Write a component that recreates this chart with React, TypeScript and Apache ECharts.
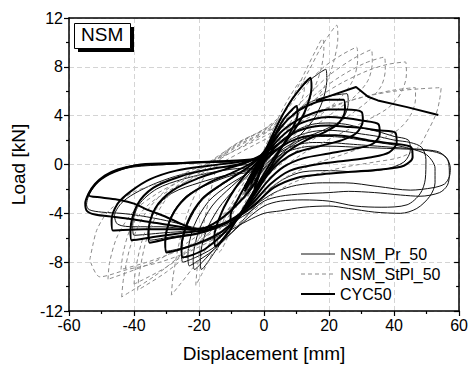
import React, { useEffect, useRef } from "react";
import * as echarts from "echarts";

const FONT = '"Liberation Sans", Arial, Helvetica, sans-serif';

const xRange = [-60, 60];
const xStep = 20;
const yRange = [-12, 12];
const yStep = 4;
const seriesNames = ["NSM_Pr_50", "NSM_StPl_50", "CYC50"];
const panelTitle = "NSM";
const xTitle = "Displacement [mm]";
const yTitle = "Load [kN]";

// CYC50 (thick) loops
const cyc1 = [[-3,-2.0],[0,0.2],[3,2.2],[6,3.7],[9,4.6],[10,4.8],[10.3,4.1],[8,2.6],[5,1.2],[2,-0.2],[-1,-1.4],[-4,-2.9],[-7,-4.1],[-10,-4.9],[-10.3,-4.2],[-8,-2.8],[-5,-1.4],[-2,-0.1],[0,0.9],[3,2.2]];
const cyc2 = [[-4,-1.6],[0,0.9],[4,3.2],[8,5.1],[12,6.5],[14.3,7.1],[14.6,6.3],[12.5,4.3],[9,2.7],[5,1.3],[1,-0.3],[-3,-2.1],[-7,-3.9],[-11,-5.6],[-15,-6.7],[-15.3,-5.9],[-13,-3.9],[-9,-2],[-5,-0.6],[-1,0.5],[3,2.5]];
const cyc3 = [[-5,-1.3],[0,1.0],[5,3.0],[10,4.3],[15,5.0],[20,5.3],[24.5,5.3],[24.9,4.5],[23,3.4],[19,2.7],[13,2.0],[7,1.0],[2,-0.4],[-3,-2.3],[-8,-4.3],[-13,-5.8],[-18,-6.9],[-22,-7.4],[-25,-7.6],[-25.4,-6.8],[-23.5,-4.7],[-19,-2.8],[-13,-1.6],[-7,-0.6],[-2,0.4],[3,2.2]];
const cyc4 = [[-5,-1.5],[0,0.8],[5,2.6],[10,3.6],[15,4.2],[20,4.5],[25,4.5],[30,4.3],[30.4,3.6],[28.5,2.6],[24,2.0],[17,1.5],[10,1.0],[5,0.2],[1,-0.9],[-3,-2.5],[-8,-4.3],[-13,-5.5],[-18,-6.2],[-24,-6.8],[-30,-7.2],[-30.4,-6.4],[-28.5,-4.3],[-24,-2.7],[-17,-1.5],[-10,-0.7],[-4,0.1],[1,1.2],[5,2.6]];
const cyc5 = [[-6,-1.8],[0,0.6],[5,2.2],[10,3.2],[15,3.7],[20,3.9],[25,3.8],[30,3.6],[35.2,3.3],[35.6,2.5],[33.5,1.7],[28,1.3],[20,0.9],[12,0.5],[6,-0.2],[1,-1.4],[-4,-3.1],[-9,-4.4],[-15,-5.2],[-21,-5.7],[-28,-6.0],[-35.2,-6.4],[-35.6,-5.6],[-33.5,-3.6],[-28,-2.1],[-20,-1.1],[-12,-0.4],[-5,0.2],[0,0.9],[5,2.2]];
const cyc6 = [[-6,-2],[0,0.4],[5,1.8],[10,2.7],[15,3.1],[20,3.2],[25,3.1],[30,3.0],[35,2.8],[40.4,2.6],[40.8,1.8],[38.5,1.0],[33,0.6],[25,0.3],[16,0.0],[8,-0.5],[2,-1.6],[-4,-3.3],[-10,-4.5],[-17,-5.3],[-25,-5.6],[-33,-5.9],[-40.7,-6.2],[-41.1,-5.4],[-39,-3.3],[-34,-1.9],[-26,-1.0],[-17,-0.4],[-8,0.0],[-2,0.6],[5,1.8]];
const cyc7 = [[-6,-2.2],[0,0.2],[5,1.4],[10,2.1],[16,2.4],[22,2.4],[28,2.2],[34,1.9],[40,1.7],[45.3,1.4],[45.7,0.6],[43,-0.1],[36,-0.4],[27,-0.6],[18,-0.8],[10,-1.1],[3,-1.9],[-3,-3.3],[-10,-4.6],[-18,-5.2],[-27,-5.3],[-37,-5.3],[-46.5,-5.4],[-46.9,-4.6],[-45,-3.2],[-41,-2.2],[-35,-1.2],[-27,-0.5],[-17,-0.1],[-8,0.2],[-2,0.5],[5,1.4]];
const cyc8 = [[0,0.5],[-10,0.3],[-20,0.2],[-30,0.05],[-40,-0.1],[-45,-0.4],[-49,-0.9],[-52,-1.6],[-54,-2.4],[-55,-3.2],[-54.5,-3.8],[-52,-4.1],[-46,-4.3],[-40,-4.5],[-33,-4.8],[-26,-5.1],[-20,-5.3],[-14,-4.6],[-8,-3.2],[-3,-1.6],[0,0.5]];
const cyc9 = [[-10,0.25],[-25,0.12],[-38,0],[-46,-0.6],[-51,-1.4],[-54,-2.5],[-50,-2.7],[-44.4,-2.9],[-40,-3.2],[-36,-3.7],[-31,-4.2],[-26,-4.8],[-21,-5.4]];
const cycEnvelope = [[16,5.2],[19,5.5],[28.3,6.35],[32,5.55],[35,5.25],[44,4.7],[53.6,4.05]];
const cycLoops = [cyc1, cyc2, cyc3, cyc4, cyc5, cyc6, cyc7, cyc8, cyc9];

// NSM_Pr_50 (thin) loops
const pr1 = [[-3,-1.8],[1,1.2],[6,4.2],[11,6.2],[16,7.3],[19,7.8],[19.3,6.9],[18,5.2],[15,3.6],[10,2.1],[5,0.7],[0,-1],[-5,-3.1],[-10,-5.1],[-15,-7.1],[-19.3,-8.6],[-19.6,-7.7],[-18,-5.6],[-14,-3.6],[-9,-2.0],[-4,-0.6],[1,1.2]];
const pr2 = [[-4,-2],[0,0.5],[5,2.9],[10,4.4],[15,5.2],[20,5.6],[25.5,5.8],[25.9,5.0],[24,3.7],[19,2.9],[12,2.1],[5,0.8],[0,-0.9],[-5,-3.1],[-10,-5.1],[-15,-6.8],[-19,-8],[-21.4,-8.6],[-21.8,-7.7],[-20,-5.4],[-16,-3.4],[-10,-1.8],[-4,-0.4],[1,1.0]];
const pr3 = [[-5,-2.2],[0,0.3],[5,1.9],[10,2.8],[15,3.3],[20,3.4],[25,3.3],[30,3.0],[35,2.7],[40,2.3],[44.4,2.0],[45,1.2],[43,0.2],[37,-0.4],[28,-0.6],[20,-0.5],[12,-0.6],[6,-1.2],[1,-2.2],[-4,-3.8],[-10,-5.6],[-16,-7.1],[-21,-8],[-23,-8.3],[-23.4,-7.4],[-21.5,-5],[-17,-3],[-11,-1.7],[-5,-0.7],[0,0.3]];
const pr4 = [[-5,-2.4],[0,0.0],[5,1.5],[10,2.3],[15,2.7],[20,2.8],[25,2.7],[30,2.5],[35,2.3],[40,2.0],[45,1.8],[48.5,1.4],[49.8,0.4],[49.6,-1.2],[48,-2.4],[44,-3.3],[36,-3.5],[28,-3.4],[20,-3.0],[12,-2.9],[5,-3.0],[0,-3.4],[-5,-4.4],[-10,-5.6],[-16,-6.9],[-21,-7.6],[-25,-8.0],[-25.4,-7.1],[-23.5,-4.9],[-19,-2.9],[-12,-1.5],[-6,-0.5],[0,0.0]];
const pr5 = [[-6,-2.6],[0,-0.3],[5,1.1],[10,1.9],[15,2.25],[20,2.3],[25,2.2],[30,2.0],[35,1.8],[40,1.6],[45,1.3],[50,0.8],[52.6,-0.3],[52.6,-1.5],[51,-2.6],[47,-3.6],[42,-4.0],[34,-3.9],[26,-3.6],[20,-3.4],[12,-3.5],[5,-3.8],[0,-4.0],[-5,-4.6],[-12,-5.6],[-20,-6.5],[-26,-6.9],[-30,-7.1],[-30.4,-6.3],[-28.5,-4.2],[-24,-2.6],[-17,-1.6],[-10,-0.9],[-4,-0.6],[0,-0.3]];
const pr6 = [[-6,-2.4],[0,-0.1],[5,1.0],[10,1.6],[15,1.8],[20,1.8],[25,1.7],[30,1.6],[35,1.5],[40,1.4],[45,1.3],[50,1.2],[54,1.0],[56.6,0.3],[57,-0.8],[56.4,-1.7],[54,-2.3],[48,-2.6],[42,-2.5],[34,-2.3],[26,-2.2],[20,-2.3],[12,-2.4],[5,-2.6],[0,-3.0],[-5,-4.0],[-12,-5.0],[-20,-5.6],[-28,-5.9],[-35,-6.2],[-35.4,-5.4],[-33.5,-3.6],[-28,-2.3],[-20,-1.5],[-12,-0.9],[-5,-0.5],[0,-0.1]];
const pr7 = [[-6,-2.5],[0,-0.4],[5,0.8],[10,1.3],[15,1.5],[20,1.5],[30,1.4],[40,1.3],[48,1.2],[53,1.0],[56,0.6],[57.3,-0.3],[57,-1.0],[55.5,-1.6],[52,-1.9],[45,-2.1],[35,-1.8],[25,-1.5],[18,-1.5],[10,-1.7],[4,-2.2],[-1,-3.0],[-6,-4.0],[-13,-4.9],[-22,-5.4],[-31,-5.6],[-40,-5.8],[-40.4,-5.0],[-38.5,-3.3],[-33,-2.0],[-25,-1.2],[-15,-0.6],[-6,-0.3],[0,-0.4]];
const pr8 = [[0,0.4],[-10,0.25],[-20,0.15],[-30,0],[-40,-0.2],[-45,-0.5],[-49,-1.0],[-52,-1.7],[-54,-2.6],[-54.6,-3.3],[-53.8,-3.7],[-50,-3.9],[-44,-4.0],[-38,-4.2],[-30,-4.6],[-24,-5.0],[-18,-5.4]];
const pr9 = [[-5,0],[-15,-0.3],[-25,-0.8],[-33,-1.5],[-40,-2.4],[-44,-3.2],[-46,-4.2],[-45,-4.9],[-40,-5.1],[-32,-5.1],[-24,-5.3],[-18,-5.6]];
const prLoops = [pr1, pr2, pr3, pr4, pr5, pr6, pr7, pr8, pr9];

// NSM_StPl_50 (dashed grey) loops
const st1 = [[-4,-1.5],[0,1.2],[4,3.6],[8,5.6],[12,7.0],[12.4,6.2],[10,4.4],[6,2.5],[2,0.8],[-2,-1.0],[-6,-3.2],[-10,-5.3],[-14,-7.2],[-14.4,-6.4],[-12,-4.3],[-8,-2.3],[-4,-0.5],[0,1.2]];
const st2 = [[-21,-9.9],[-20.6,-8.6],[-19,-5.5],[-16.5,-2.3],[-14,0.2],[-10,1.4],[-5,2.2],[0,2.8],[5,3.8],[9,5.6],[13,7.8],[16,9.4],[18,10.3],[18.4,9.5],[17.5,7.8],[15,6.0],[10,3.9],[5,2.0],[0,0.2],[-5,-1.8],[-10,-4.2],[-15,-6.8],[-19,-8.9],[-21,-9.9]];
const st3 = [[-28.5,-10.7],[-28,-9.2],[-26,-6.3],[-23,-3.6],[-19,-1.3],[-14,0.6],[-8,1.8],[-2,2.6],[4,3.6],[9,5.4],[14,7.8],[18,9.8],[22.4,11.4],[22.7,10.4],[21.5,8.5],[19,6.6],[14,4.6],[8,2.6],[2,0.6],[-4,-1.6],[-10,-3.9],[-16,-6.2],[-22,-8.5],[-28.5,-10.7]];
const st4 = [[-38.9,-10.3],[-38.3,-8.8],[-36,-6.0],[-32,-3.6],[-27,-1.8],[-20,-0.4],[-13,0.9],[-6,2.0],[0,2.9],[6,4.2],[12,6.2],[18,7.9],[24,9.0],[28.5,9.6],[28.8,8.6],[27.5,7.0],[24,5.6],[18,4.2],[11,2.8],[4,1.0],[-2,-0.9],[-8,-2.9],[-15,-5.0],[-22,-7.0],[-30,-8.8],[-38.9,-10.3]];
const st5 = [[-43.8,-10.85],[-43.2,-9.3],[-41,-6.6],[-37,-4.2],[-31,-2.3],[-24,-1.0],[-16,0.3],[-8,1.6],[0,2.7],[7,4.0],[14,5.8],[20,7.3],[27,8.6],[33,9.4],[33.3,8.4],[32,6.9],[28,5.6],[21,4.2],[13,2.6],[5,0.7],[-2,-1.1],[-9,-3.1],[-17,-5.3],[-25,-7.3],[-34,-9.2],[-43.8,-10.85]];
const st6 = [[-40,-9.8],[-39.4,-8.4],[-37,-5.8],[-33,-3.6],[-27,-2.0],[-20,-0.7],[-12,0.7],[-4,1.9],[3,3.0],[10,4.4],[17,6.0],[24,7.3],[31,8.3],[37,8.8],[37.3,7.8],[36,6.4],[32,5.2],[25,3.8],[17,2.4],[9,0.9],[2,-0.7],[-5,-2.5],[-13,-4.6],[-21,-6.6],[-30,-8.4],[-40,-9.8]];
const st7 = [[-48,-9.4],[-47.5,-8],[-45,-5.8],[-40,-3.8],[-33,-2.4],[-25,-1.2],[-16,0.2],[-8,1.5],[0,2.6],[8,3.9],[16,5.4],[24,6.7],[32,7.7],[38,8.2],[43.5,8.4],[43.8,7.4],[42,5.8],[38,4.6],[30,3.4],[21,2.2],[12,0.9],[4,-0.6],[-4,-2.3],[-13,-4.3],[-23,-6.3],[-34,-8],[-48,-9.4]];
const st8 = [[-53.6,-7.8],[-52.5,-6.4],[-51.5,-5.4],[-49.5,-4.4],[-47.4,-3.7],[-40.4,-2.3],[-30,-1.3],[-20,-0.2],[-10,1.0],[0,2.3],[10,3.6],[20,4.7],[30,5.5],[40,6.0],[48,6.2],[54.5,6.3],[54,5.3],[53,4.2],[50.5,2.8],[47.4,1.4],[42,0.6],[34,0.2],[25,-0.2],[16,-0.8],[8,-1.6],[2,-2.6],[-4,-4.0],[-12,-5.6],[-22,-7.0],[-32,-8.0],[-42,-8.6],[-50.5,-9.2],[-53.6,-7.8]];
const st9 = [[-44,-8.6],[-43.3,-7.2],[-41,-5.2],[-36,-3.4],[-29,-2.1],[-21,-1.0],[-12,0.3],[-3,1.6],[6,2.8],[15,4.0],[24,5.0],[33,5.7],[40,6.1],[46.5,6.3],[46.6,5.4],[45,4.0],[41,2.8],[33,1.7],[24,0.8],[15,0.0],[7,-1.0],[0,-2.3],[-7,-3.9],[-16,-5.6],[-26,-7.0],[-36,-8.0],[-44,-8.6]];
const stLoops = [st1, st2, st3, st4, st5, st6, st7, st8, st9];

export default function App() {
  const ref = useRef<HTMLDivElement>(null);
  useEffect(() => {
    if (!ref.current) return;
    const chart = echarts.init(ref.current, null, { renderer: "svg" });
    const stStyle = { color: "#8a8a8a", width: 1, type: [4, 3] };
    const prStyle = { color: "#111", width: 1, type: "solid" };
    const cycStyle = { color: "#000", width: 2, type: "solid" };
    const styles = [prStyle, stStyle, cycStyle];
    const mk = (name: string, data: number[][], ls: any, smooth: number | boolean = 0.3) => ({
      type: "line",
      name,
      data,
      xAxisIndex: 0,
      yAxisIndex: 0,
      symbol: "none",
      showSymbol: false,
      legendIcon: "none",
      smooth,
      lineStyle: ls,
      itemStyle: { color: ls.color },
      emphasis: { disabled: true },
      silent: true,
    });
    const series: any[] = [];
    prLoops.forEach((d) => series.push(mk(seriesNames[0], d, prStyle)));
    stLoops.forEach((d) => series.push(mk(seriesNames[1], d, stStyle)));
    cycLoops.forEach((d) => series.push(mk(seriesNames[2], d, cycStyle)));
    series.push(mk(seriesNames[2], cycEnvelope, cycStyle, false));

    const axisLineStyle = { color: "#000", width: 1.5 };
    chart.setOption({
      animation: false,
      textStyle: { fontFamily: FONT },
      grid: { left: 69, right: 10, top: 18, bottom: 59, containLabel: false },
      legend: {
        data: seriesNames.map((n, i) => ({
          name: n,
          lineStyle: { width: styles[i].width, color: styles[i].color, type: styles[i].type },
        })),
        orient: "vertical",
        left: 300,
        top: 246,
        itemWidth: 34,
        itemHeight: 12,
        itemGap: 4,
        padding: 0,
        selectedMode: false,
        itemStyle: { opacity: 0 },
        textStyle: { fontSize: 16, color: "#000", fontFamily: FONT },
      },
      xAxis: [
        {
          type: "value",
          min: xRange[0],
          max: xRange[1],
          interval: xStep,
          position: "bottom",
          axisLine: { onZero: false, lineStyle: axisLineStyle },
          axisTick: { show: true, inside: false, length: 5, lineStyle: { color: "#000", width: 1.2 } },
          minorTick: { show: true, splitNumber: 2, length: 3, lineStyle: { color: "#000", width: 1.2 } },
          axisLabel: { fontSize: 16, color: "#000", margin: 6, fontFamily: FONT },
          splitLine: { show: true, lineStyle: { color: "#d4d4d4", type: [5, 3], width: 1 } },
          name: xTitle,
          nameLocation: "middle",
          nameGap: 33,
          nameTextStyle: { fontSize: 19, color: "#000", fontFamily: FONT },
        },
        {
          type: "value",
          min: xRange[0],
          max: xRange[1],
          interval: xStep,
          position: "top",
          axisLine: { show: true, onZero: false, lineStyle: axisLineStyle },
          axisTick: { show: false },
          axisLabel: { show: false },
          splitLine: { show: false },
        },
      ],
      yAxis: [
        {
          type: "value",
          min: yRange[0],
          max: yRange[1],
          interval: yStep,
          position: "left",
          axisLine: { show: true, onZero: false, lineStyle: axisLineStyle },
          axisTick: { show: true, inside: false, length: 5, lineStyle: { color: "#000", width: 1.2 } },
          minorTick: { show: true, splitNumber: 2, length: 3, lineStyle: { color: "#000", width: 1.2 } },
          axisLabel: { fontSize: 16, color: "#000", margin: 6, fontFamily: FONT },
          splitLine: { show: true, lineStyle: { color: "#d4d4d4", type: [5, 3], width: 1 } },
          name: yTitle,
          nameLocation: "middle",
          nameRotate: 90,
          nameGap: 41,
          nameTextStyle: { fontSize: 19, color: "#000", fontFamily: FONT },
        },
        {
          type: "value",
          min: yRange[0],
          max: yRange[1],
          interval: yStep,
          position: "right",
          axisLine: { show: true, onZero: false, lineStyle: axisLineStyle },
          axisTick: { show: true, inside: true, length: 5, lineStyle: { color: "#000", width: 1.2 } },
          minorTick: { show: true, splitNumber: 2, length: 3, lineStyle: { color: "#000", width: 1.2 } },
          axisLabel: { show: false },
          splitLine: { show: false },
        },
      ],
      graphic: [
        { type: "rect", left: 78, top: 27, shape: { width: 56, height: 25 }, style: { fill: "#000" }, z: 100 },
        { type: "rect", left: 74, top: 23, shape: { width: 56, height: 25 }, style: { fill: "#fff", stroke: "#000", lineWidth: 1 }, z: 101 },
        {
          type: "text",
          left: 81,
          top: 25,
          style: { text: panelTitle, fontSize: 19, fill: "#000", fontFamily: FONT },
          z: 102,
        },
      ],
      series,
    });
    return () => chart.dispose();
  }, []);
  return <div ref={ref} style={{ position: "fixed", left: 0, top: 0, width: 471, height: 370, background: "#fff" }} />;
}
